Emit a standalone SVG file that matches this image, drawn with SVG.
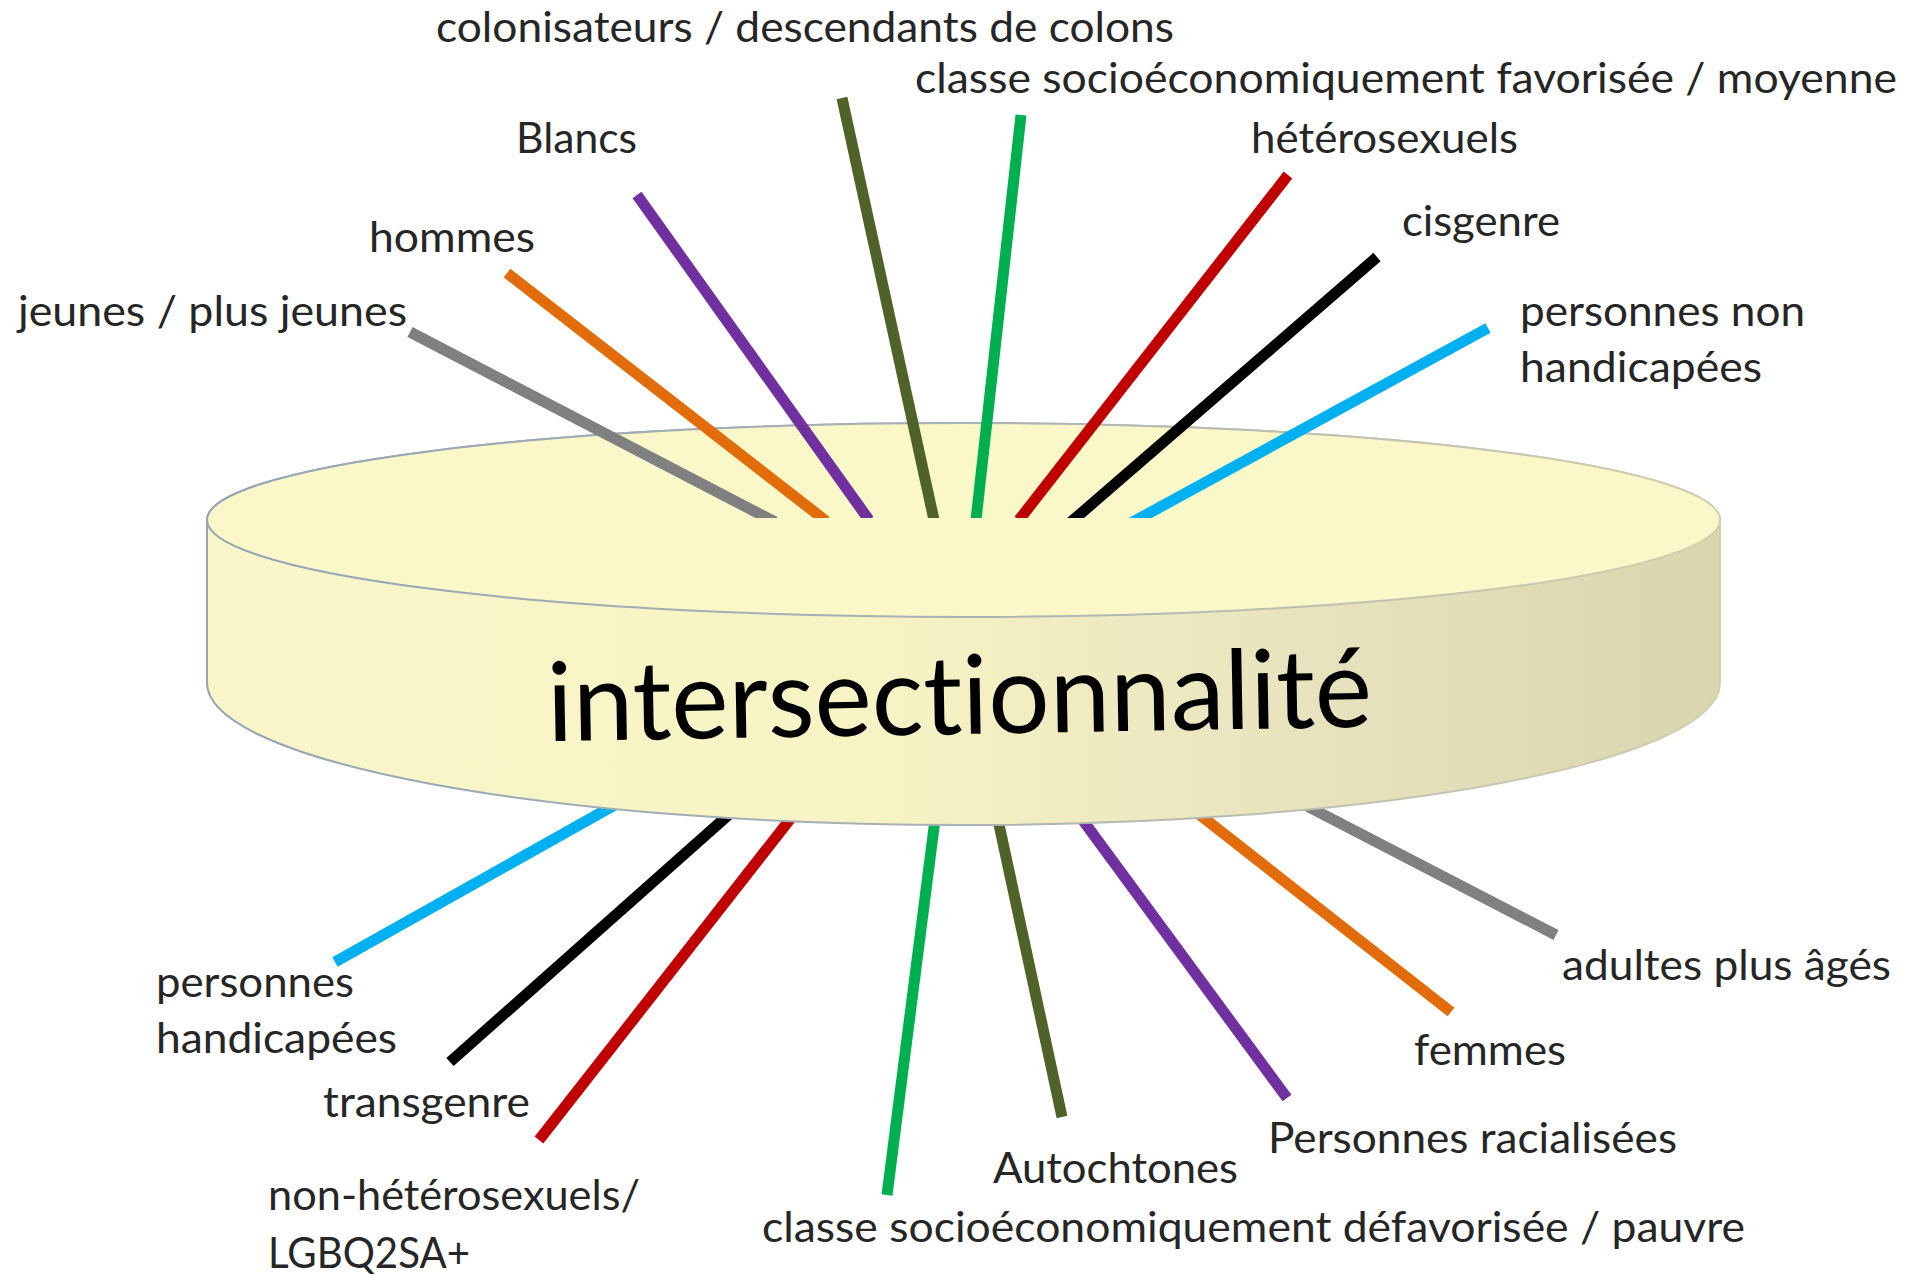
<svg xmlns="http://www.w3.org/2000/svg" width="1914" height="1275" viewBox="0 0 1914 1275">
<style>
.lbl{font-family:Lato,"Open Sans","Liberation Sans",sans-serif;font-size:42px;fill:#262626;font-variant-ligatures:none;font-feature-settings:"liga" 0}
.ln{stroke-width:11;stroke-linecap:butt;fill:none}
.big{font-family:Lato,"Open Sans","Liberation Sans",sans-serif;font-size:110px;fill:#000;font-variant-ligatures:none;font-feature-settings:"liga" 0}
</style>
<defs>
<linearGradient id="side" x1="207" y1="0" x2="1720" y2="0" gradientUnits="userSpaceOnUse">
<stop offset="0" stop-color="#F9F7C9"/>
<stop offset="0.45" stop-color="#F6F3C5"/>
<stop offset="0.75" stop-color="#E6E2BD"/>
<stop offset="1" stop-color="#D9D6AE"/>
</linearGradient>
<linearGradient id="edge" x1="207" y1="0" x2="1720" y2="0" gradientUnits="userSpaceOnUse">
<stop offset="0" stop-color="#93A4B6"/>
<stop offset="0.5" stop-color="#A9B2B4"/>
<stop offset="1" stop-color="#D3D0AE"/>
</linearGradient>
<clipPath id="topclip"><rect x="0" y="0" width="1914" height="518"/></clipPath>
</defs>
<g id="connectors-bottom">
<line class="ln" stroke="#00B0F0" x1="741" y1="734" x2="335" y2="962"/>
<line class="ln" stroke="#000000" x1="832" y1="723" x2="450" y2="1062"/>
<line class="ln" stroke="#C00000" x1="874" y1="712" x2="539" y2="1140"/>
<line class="ln" stroke="#00B050" x1="948" y1="718" x2="887" y2="1195"/>
<line class="ln" stroke="#4F6228" x1="978" y1="727" x2="1062" y2="1117"/>
<line class="ln" stroke="#7030A0" x1="1018" y1="732" x2="1287" y2="1098"/>
<line class="ln" stroke="#E36C0A" x1="1112" y1="746" x2="1451" y2="1012"/>
<line class="ln" stroke="#808080" x1="1224" y1="763" x2="1556" y2="935"/>
</g>
<g id="intersectionnalite">
<path d="M207,520 L207,683 A756.5,142 0 0 0 1720,683 L1720,520 A756.5,97 0 0 0 207,520 Z" fill="url(#side)" stroke="url(#edge)" stroke-width="2"/>
<ellipse cx="963.5" cy="520" rx="756.5" ry="97" fill="#FAF8C8" stroke="url(#edge)" stroke-width="2"/>
</g>
<g id="connectors-top" clip-path="url(#topclip)">
<line class="ln" stroke="#808080" x1="410" y1="332" x2="775" y2="522"/>
<line class="ln" stroke="#E36C0A" x1="507" y1="273" x2="826" y2="521"/>
<line class="ln" stroke="#7030A0" x1="637" y1="195" x2="869" y2="520"/>
<line class="ln" stroke="#4F6228" x1="842" y1="98" x2="934" y2="520"/>
<line class="ln" stroke="#00B050" x1="1021" y1="115" x2="976" y2="520"/>
<line class="ln" stroke="#C00000" x1="1288" y1="175" x2="1019" y2="520"/>
<line class="ln" stroke="#000000" x1="1377" y1="257" x2="1071" y2="522"/>
<line class="ln" stroke="#00B0F0" x1="1488" y1="328" x2="1131" y2="523"/>
</g>
<g id="title">
<text class="big" x="960" y="734" text-anchor="middle" textLength="825" lengthAdjust="spacingAndGlyphs" transform="rotate(-1 960 734)">intersectionnalité</text>
</g>
<g id="n-colonisateurs"><text class="lbl" x="436" y="42" textLength="738" lengthAdjust="spacingAndGlyphs">colonisateurs / descendants de colons</text></g>
<g id="n-classe-fav"><text class="lbl" x="915" y="93" textLength="982" lengthAdjust="spacingAndGlyphs">classe socioéconomiquement favorisée / moyenne</text></g>
<g id="n-blancs"><text class="lbl" x="516" y="153" textLength="121" lengthAdjust="spacingAndGlyphs">Blancs</text></g>
<g id="n-hommes"><text class="lbl" x="369" y="252" textLength="166" lengthAdjust="spacingAndGlyphs">hommes</text></g>
<g id="n-jeunes"><text class="lbl" x="18" y="326" textLength="389" lengthAdjust="spacingAndGlyphs">jeunes / plus jeunes</text></g>
<g id="n-hetero"><text class="lbl" x="1251" y="153" textLength="267" lengthAdjust="spacingAndGlyphs">hétérosexuels</text></g>
<g id="n-cisgenre"><text class="lbl" x="1402" y="236" textLength="158" lengthAdjust="spacingAndGlyphs">cisgenre</text></g>
<g id="n-non-handicapees"><text class="lbl" x="1520" y="326" textLength="285" lengthAdjust="spacingAndGlyphs">personnes non</text><text class="lbl" x="1520" y="382" textLength="242" lengthAdjust="spacingAndGlyphs">handicapées</text></g>
<g id="n-handicapees"><text class="lbl" x="156" y="997" textLength="198" lengthAdjust="spacingAndGlyphs">personnes</text><text class="lbl" x="156" y="1053" textLength="241" lengthAdjust="spacingAndGlyphs">handicapées</text></g>
<g id="n-transgenre"><text class="lbl" x="323" y="1117" textLength="207" lengthAdjust="spacingAndGlyphs">transgenre</text></g>
<g id="n-non-hetero"><text class="lbl" x="268" y="1210" textLength="372" lengthAdjust="spacingAndGlyphs">non-hétérosexuels/</text><text class="lbl" x="268" y="1268" textLength="202" lengthAdjust="spacingAndGlyphs">LGBQ2SA+</text></g>
<g id="n-classe-defav"><text class="lbl" x="762" y="1242" textLength="983" lengthAdjust="spacingAndGlyphs">classe socioéconomiquement défavorisée / pauvre</text></g>
<g id="n-autochtones"><text class="lbl" x="993" y="1183" textLength="245" lengthAdjust="spacingAndGlyphs">Autochtones</text></g>
<g id="n-racialisees"><text class="lbl" x="1268" y="1153" textLength="409" lengthAdjust="spacingAndGlyphs">Personnes racialisées</text></g>
<g id="n-femmes"><text class="lbl" x="1414" y="1065" textLength="152" lengthAdjust="spacingAndGlyphs">femmes</text></g>
<g id="n-ages"><text class="lbl" x="1562" y="980" textLength="329" lengthAdjust="spacingAndGlyphs">adultes plus âgés</text></g>
</svg>
